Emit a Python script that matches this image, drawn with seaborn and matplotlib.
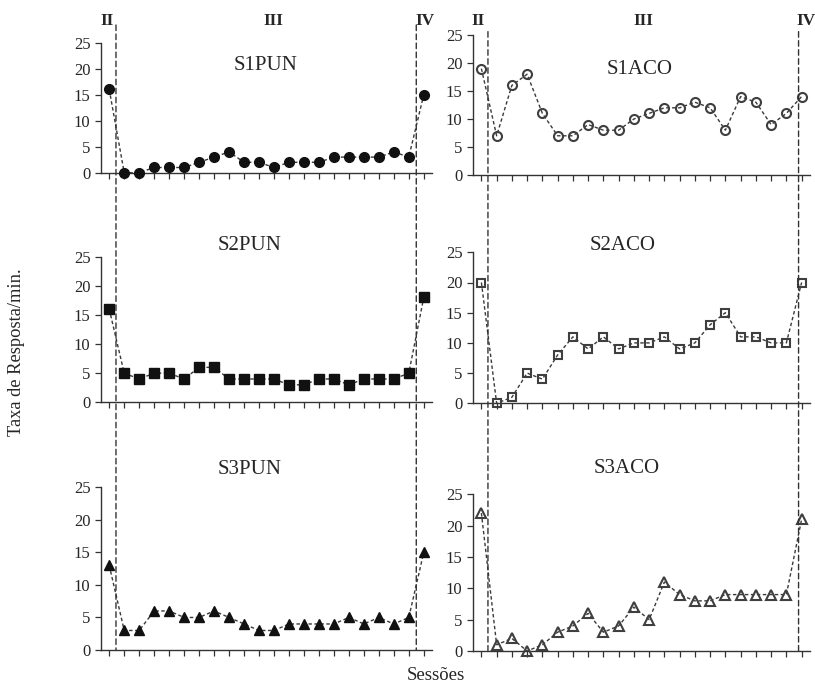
import numpy as np
import pandas as pd
import matplotlib
matplotlib.use("Agg")
import matplotlib.pyplot as plt
from matplotlib.patches import ConnectionPatch
import seaborn as sns

# ---------------- data ----------------
sessions = list(range(1, 23))
s1pun = [16, 0, 0, 1, 1, 1, 2, 3, 4, 2, 2, 1, 2, 2, 2, 3, 3, 3, 3, 4, 3, 15]
s2pun = [16, 5, 4, 5, 5, 4, 6, 6, 4, 4, 4, 4, 3, 3, 4, 4, 3, 4, 4, 4, 5, 18]
s3pun = [13, 3, 3, 6, 6, 5, 5, 6, 5, 4, 3, 3, 4, 4, 4, 4, 5, 4, 5, 4, 5, 15]
s1aco = [19, 7, 16, 18, 11, 7, 7, 9, 8, 8, 10, 11, 12, 12, 13, 12, 8, 14, 13, 9, 11, 14]
s2aco = [20, 0, 1, 5, 4, 8, 11, 9, 11, 9, 10, 10, 11, 9, 10, 13, 15, 11, 11, 10, 10, 20]
s3aco = [22, 1, 2, 0, 1, 3, 4, 6, 3, 4, 7, 5, 11, 9, 8, 8, 9, 9, 9, 9, 9, 21]
panel_titles = ["S1PUN", "S2PUN", "S3PUN", "S1ACO", "S2ACO", "S3ACO"]
phase_labels = ["II", "III", "IV"]
phase_lines_left = [1.45, 21.5]     # session position of phase changes (left column)
phase_lines_right = [1.43, 21.8]    # (right column)
y_ticks = [0, 5, 10, 15, 20, 25]

# ---------------- style ----------------
sns.set_theme(style="ticks")
plt.rcParams["font.family"] = ["Liberation Serif", "DejaVu Serif"]
TXT = "#262626"
plt.rcParams.update({
    "axes.edgecolor": "#333333",
    "axes.linewidth": 1.0,
    "xtick.color": "#333333",
    "ytick.color": "#333333",
    "xtick.labelcolor": TXT,
    "ytick.labelcolor": TXT,
    "xtick.major.size": 4,
    "ytick.major.size": 4.3,
    "xtick.major.width": 0.9,
    "ytick.major.width": 0.9,
})

W, H = 815, 686
fig = plt.figure(figsize=(W / 100, H / 100), dpi=100)
fig.patch.set_facecolor("white")


def px_axes(x0, x1, ytop, ybot):
    return fig.add_axes([x0 / W, 1 - ybot / H, (x1 - x0) / W, (ybot - ytop) / H])


# pixel boxes (left, right, top(y=25), bottom(y=0))
boxes = [
    (100.7, 432, 42.7, 172.7),
    (100.7, 432, 256.7, 402.3),
    (100.7, 432, 487.3, 650),
    (472.7, 810, 35, 175),
    (472.7, 810, 252.3, 403.3),
    (472.7, 810, 494.3, 651),
]
series = [s1pun, s2pun, s3pun, s1aco, s2aco, s3aco]
markers = ["o", "s", "^", "o", "s", "^"]
msizes = [7, 6.5, 7, 6.5, 6, 6.5]
title_pos = [(266, 66), (250, 245), (250, 470), (640, 70), (623, 245), (627, 468)]

axes = []
for i, (b, vals) in enumerate(zip(boxes, series)):
    ax = px_axes(*b)
    axes.append(ax)
    filled = i < 3
    df = pd.DataFrame({"Sessao": sessions, "Taxa": vals})
    sns.lineplot(
        data=df, x="Sessao", y="Taxa", ax=ax,
        color="#3a3a3a", linewidth=1.0, linestyle=(0, (2.5, 1.8)),
        marker=markers[i], markersize=msizes[i],
        markerfacecolor="#111111" if filled else "none",
        markeredgecolor="#111111" if filled else "#3f3f3f",
        markeredgewidth=1.0 if filled else 1.5,
        clip_on=False, zorder=3,
    )
    ax.set_xlim(0.43, 22.55)
    ax.set_ylim(0, 25)
    ax.set_xticks(sessions)
    ax.set_xticklabels([])
    ax.set_yticks(y_ticks)
    ax.tick_params(axis="y", labelsize=12, pad=3)
    ax.tick_params(axis="x", length=4)
    ax.set_xlabel("")
    ax.set_ylabel("")
    ax.set_facecolor("none")
    sns.despine(ax=ax)
    # panel title
    tx, ty = title_pos[i]
    x0, x1, yt, yb = b
    ax.text((tx - x0) / (x1 - x0), (yb - ty) / (yb - yt), panel_titles[i],
            transform=ax.transAxes, ha="center", va="center",
            fontsize=15, color=TXT)

# phase-change dashed lines spanning each column
for col, xs, ytop in [(0, phase_lines_left, 28.4), (1, phase_lines_right, 25.6)]:
    top_ax = axes[col * 3]
    bot_ax = axes[col * 3 + 2]
    for xv in xs:
        con = ConnectionPatch(xyA=(xv, ytop), coordsA=top_ax.transData,
                              xyB=(xv, 0), coordsB=bot_ax.transData,
                              color="#333333", linewidth=1.0,
                              linestyle=(0, (4, 2.5)), zorder=5)
        fig.add_artist(con)

# phase labels
for (x, y), lab in zip([(106.7, 21), (273, 21), (425, 21)], phase_labels):
    fig.text(x / W, 1 - y / H, lab, ha="center", va="center",
             fontsize=12.5, fontweight="bold", color=TXT)
for (x, y), lab in zip([(478, 21), (643, 21), (806, 21)], phase_labels):
    fig.text(x / W, 1 - y / H, lab, ha="center", va="center",
             fontsize=12.5, fontweight="bold", color=TXT)

fig.text(17 / W, 1 - 352 / H, "Taxa de Resposta/min.", rotation=90,
         ha="center", va="center", fontsize=13.3, color=TXT)
fig.text(436 / W, 1 - 676 / H, "Sessões", ha="center", va="center",
         fontsize=13.5, color=TXT)

fig.savefig("out.png", dpi=100, facecolor="white")
